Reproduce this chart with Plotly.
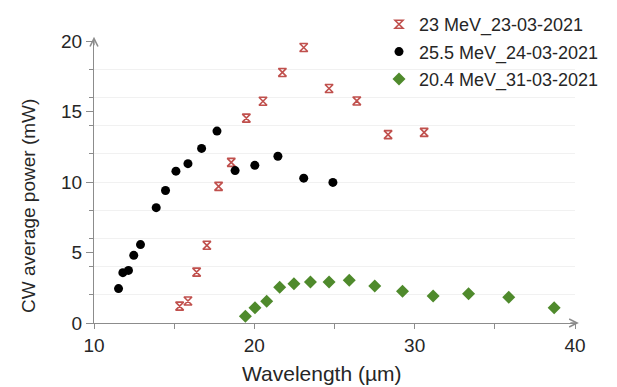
import plotly.graph_objects as go

# Series: 23 MeV (23-03-2021)
wl_23 = [15.34, 15.86, 16.40, 17.04, 17.77, 18.56, 19.50, 20.54, 21.75, 23.08, 24.66, 26.39, 28.34, 30.59]
pw_23 = [1.20, 1.56, 3.61, 5.51, 9.69, 11.39, 14.53, 15.73, 17.77, 19.54, 16.63, 15.75, 13.36, 13.52]

# Series: 25.5 MeV (24-03-2021)
wl_255 = [11.53, 11.80, 12.15, 12.48, 12.90, 13.88, 14.46, 15.11, 15.86, 16.71, 17.67, 18.80, 20.03, 21.47, 23.08, 24.90]
pw_255 = [2.44, 3.57, 3.73, 4.80, 5.56, 8.18, 9.40, 10.77, 11.30, 12.38, 13.61, 10.81, 11.18, 11.83, 10.27, 9.97]

# Series: 20.4 MeV (31-03-2021)
wl_204 = [19.44, 20.04, 20.77, 21.58, 22.47, 23.50, 24.66, 25.92, 27.51, 29.24, 31.15, 33.36, 35.87, 38.70]
pw_204 = [0.47, 1.09, 1.54, 2.53, 2.79, 2.90, 2.90, 3.03, 2.62, 2.25, 1.91, 2.08, 1.82, 1.09]

names = ["23 MeV_23-03-2021", "25.5 MeV_24-03-2021", "20.4 MeV_31-03-2021"]
x_title = "Wavelength (µm)"
y_title = "CW average power (mW)"

x_ticks = [10, 20, 30, 40]
y_ticks = [0, 5, 10, 15, 20]

FONT = "Liberation Sans, Arial, sans-serif"
AXIS_COL = "#8c8c8c"
TXT = "#262626"

W, H = 617, 387
ML, MR, MT, MB = 94, 42, 41, 64
PW, PH = W - ML - MR, H - MT - MB

fig = go.Figure()
fig.add_trace(go.Scatter(
    x=wl_23, y=pw_23, mode="markers", name=names[0], legendgroup="a",
    marker=dict(symbol="hourglass-open", size=8, color="#c0504d", line=dict(width=1.6, color="#c0504d")),
))
fig.add_trace(go.Scatter(
    x=wl_255, y=pw_255, mode="markers", name=names[1], legendgroup="b",
    marker=dict(symbol="circle", size=9, color="#000000"),
))
fig.add_trace(go.Scatter(
    x=wl_204, y=pw_204, mode="markers", name=names[2], legendgroup="c",
    marker=dict(symbol="diamond", size=10, color="#4f8a2c"),
))

fig.update_layout(
    width=W, height=H,
    margin=dict(l=ML, r=MR, t=MT, b=MB, pad=0, autoexpand=False),
    paper_bgcolor="white", plot_bgcolor="white",
    font=dict(family=FONT, size=19, color=TXT),
    showlegend=True,
    legend=dict(
        x=(379 - ML) / PW, xanchor="left",
        y=(H - 6) / H, yanchor="top", yref="container",
        font=dict(size=18, color=TXT),
        bgcolor="rgba(0,0,0,0)", tracegroupgap=1,
        itemwidth=30,
    ),
)

fig.update_xaxes(
    range=[10, 40], tickvals=x_ticks, ticktext=[str(v) for v in x_ticks],
    showline=True, linecolor=AXIS_COL, linewidth=1.3,
    ticks="outside", ticklen=5, tickcolor=AXIS_COL, tickwidth=1.3,
    minor=dict(tickvals=[15, 25, 35], ticks="outside", ticklen=5, tickcolor=AXIS_COL, tickwidth=1.3),
    showgrid=False, zeroline=False,
    tickfont=dict(size=19, family=FONT, color=TXT),
)
fig.update_yaxes(
    range=[0, 20], tickvals=y_ticks, ticktext=[str(v) for v in y_ticks],
    showline=True, linecolor=AXIS_COL, linewidth=1.3,
    ticks="outside", ticklen=7, tickcolor=AXIS_COL, tickwidth=1.3,
    minor=dict(dtick=2, ticks="outside", ticklen=4, tickcolor=AXIS_COL, tickwidth=1.1,
               showgrid=True, gridcolor="#f1f1f1", gridwidth=1),
    showgrid=False, zeroline=False,
    tickfont=dict(size=19, family=FONT, color=TXT),
)

# axis titles
fig.add_annotation(text=x_title, xref="paper", yref="paper",
                   x=(322 - ML) / PW, y=0, yshift=-(373 - (H - MB)),
                   xanchor="center", yanchor="middle", showarrow=False,
                   font=dict(size=21, family=FONT, color=TXT))
fig.add_annotation(text=y_title, xref="paper", yref="paper", textangle=-90,
                   x=0, xshift=-(ML - 28), y=((H - MB) - 206) / PH,
                   xanchor="center", yanchor="middle", showarrow=False,
                   font=dict(size=19, family=FONT, color=TXT))

# axis arrowheads
fig.add_annotation(x=1.008, y=0, xref="paper", yref="paper", ax=-10, ay=0, text="",
                   showarrow=True, arrowhead=5, arrowsize=1.2, arrowwidth=1.3, arrowcolor=AXIS_COL)
fig.add_annotation(x=0, y=1.015, xref="paper", yref="paper", ax=0, ay=10, text="",
                   showarrow=True, arrowhead=5, arrowsize=1.2, arrowwidth=1.3, arrowcolor=AXIS_COL)

fig.write_html("out.html", config={"displayModeBar": False},
               post_script="document.body.style.margin='0px';")
